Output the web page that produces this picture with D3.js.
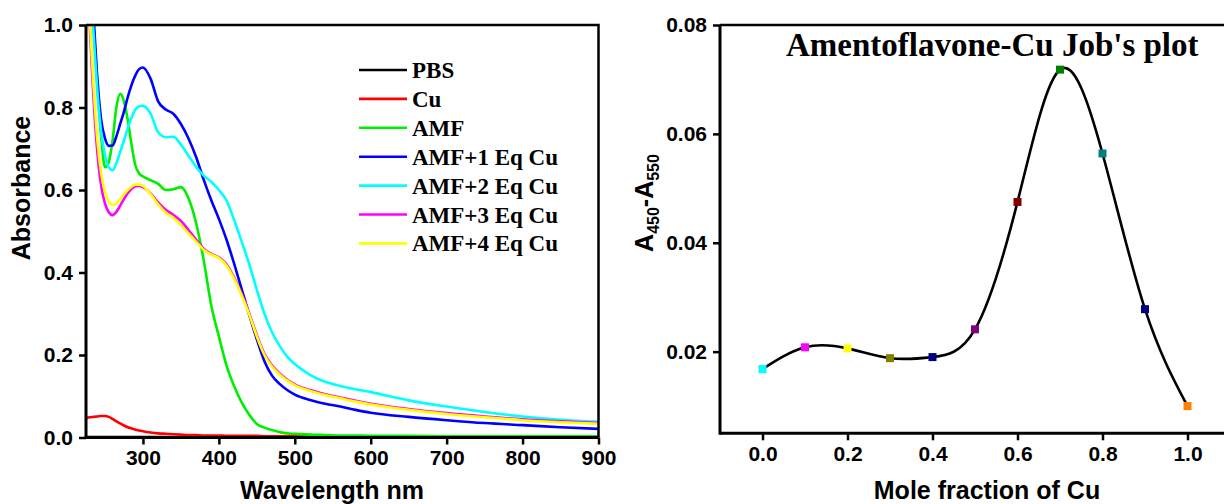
<!DOCTYPE html>
<html>
<head>
<meta charset="utf-8">
<script src="https://d3js.org/d3.v7.min.js"></script>
<style>
    body { margin: 0; background: #fff; }
    .tick text { font-family: "Liberation Sans", Arial, sans-serif; font-weight: bold; font-size: 21px; fill: #000; }
    .axis-title { font-family: "Liberation Sans", Arial, sans-serif; font-weight: bold; font-size: 25px; }
    .legend text, .plot-title { font-family: "Liberation Serif", "Times New Roman", serif; font-weight: bold; }
</style>
</head>
<body>
<div id="chart"></div>
<script>
// Wavelength grid (nm) shared by every UV-vis spectrum
const wavelengths = [225, 230, 235, 240, 245, 250, 255, 260, 265, 270, 275, 280, 285, 290, 295, 300,
    310, 320, 330, 340, 350, 360, 370, 380, 390, 400, 410, 420, 430, 440, 450, 460, 470, 480, 490, 500,
    520, 540, 560, 580, 600, 650, 700, 750, 800, 850, 900];

const absPBS = [0.001, 0.001, 0.001, 0.001, 0.001, 0.001, 0.001, 0.001, 0.001, 0.001, 0.001, 0.001, 0.001, 0.001, 0.001, 0.001,
    0.001, 0.001, 0.001, 0.001, 0.001, 0.001, 0.001, 0.001, 0.001, 0.001, 0.001, 0.001, 0.001, 0.001, 0.001, 0.001, 0.001, 0.001, 0.001, 0.001,
    0.001, 0.001, 0.001, 0.001, 0.001, 0.001, 0.002, 0.002, 0.003, 0.002, 0.002];
const absCu = [0.047, 0.049, 0.050, 0.051, 0.052, 0.052, 0.050, 0.045, 0.039, 0.034, 0.029, 0.025, 0.022, 0.019, 0.017, 0.015,
    0.012, 0.010, 0.009, 0.008, 0.007, 0.006, 0.006, 0.005, 0.005, 0.005, 0.004, 0.004, 0.004, 0.004, 0.004, 0.003, 0.003, 0.003, 0.003, 0.003,
    0.003, 0.003, 0.003, 0.002, 0.002, 0.002, 0.002, 0.002, 0.002, 0.002, 0.002];
const absAMF = [1.35, 1.15, 1.0, 0.85, 0.73, 0.655, 0.668, 0.72, 0.80, 0.833, 0.815, 0.77, 0.71, 0.66, 0.64, 0.633,
    0.624, 0.615, 0.60, 0.602, 0.607, 0.58, 0.52, 0.43, 0.32, 0.245, 0.175, 0.125, 0.085, 0.055, 0.033, 0.024, 0.018, 0.013, 0.010, 0.009,
    0.007, 0.006, 0.005, 0.005, 0.004, 0.004, 0.003, 0.003, 0.003, 0.003, 0.003];
const absEq1 = [1.30, 1.15, 1.02, 0.87, 0.77, 0.725, 0.707, 0.708, 0.73, 0.76, 0.79, 0.825, 0.855, 0.878, 0.893, 0.897,
    0.870, 0.815, 0.795, 0.785, 0.76, 0.725, 0.68, 0.625, 0.575, 0.53, 0.48, 0.422, 0.36, 0.297, 0.238, 0.185, 0.150, 0.130, 0.115, 0.104,
    0.091, 0.082, 0.075, 0.067, 0.060, 0.050, 0.042, 0.035, 0.030, 0.025, 0.021];
const absEq2 = [1.30, 1.12, 0.98, 0.84, 0.74, 0.685, 0.655, 0.648, 0.665, 0.692, 0.72, 0.75, 0.775, 0.795, 0.803, 0.804,
    0.785, 0.74, 0.728, 0.729, 0.71, 0.683, 0.656, 0.635, 0.62, 0.60, 0.575, 0.528, 0.475, 0.42, 0.358, 0.30, 0.255, 0.222, 0.196, 0.178,
    0.152, 0.135, 0.125, 0.117, 0.110, 0.090, 0.075, 0.062, 0.051, 0.043, 0.038];
const absEq3 = [1.25, 1.0, 0.82, 0.69, 0.61, 0.567, 0.546, 0.539, 0.547, 0.562, 0.578, 0.592, 0.603, 0.609, 0.61, 0.607,
    0.592, 0.57, 0.552, 0.54, 0.525, 0.503, 0.48, 0.458, 0.445, 0.437, 0.42, 0.388, 0.348, 0.301, 0.248, 0.203, 0.175, 0.155, 0.14, 0.129,
    0.115, 0.105, 0.097, 0.089, 0.082, 0.069, 0.059, 0.051, 0.044, 0.039, 0.035];
const absEq4 = [1.25, 1.02, 0.85, 0.72, 0.64, 0.595, 0.572, 0.564, 0.568, 0.578, 0.59, 0.60, 0.608, 0.613, 0.613, 0.61,
    0.59, 0.565, 0.545, 0.533, 0.515, 0.495, 0.475, 0.455, 0.443, 0.435, 0.417, 0.385, 0.345, 0.298, 0.245, 0.20, 0.172, 0.153, 0.138, 0.127,
    0.113, 0.103, 0.095, 0.087, 0.080, 0.067, 0.057, 0.049, 0.042, 0.037, 0.033];

const seriesNames = ["PBS", "Cu", "AMF", "AMF+1 Eq Cu", "AMF+2 Eq Cu", "AMF+3 Eq Cu", "AMF+4 Eq Cu"];
const seriesValues = [absPBS, absCu, absAMF, absEq1, absEq2, absEq3, absEq4];
const seriesColors = ["#000000", "#ff0000", "#00ee00", "#0000ff", "#00ffff", "#ff00ff", "#ffff00"];

const uvXTicks = [300, 400, 500, 600, 700, 800, 900];
const uvYTicks = [0.0, 0.2, 0.4, 0.6, 0.8, 1.0];

// Job's plot
const moleFraction = [0.0, 0.1, 0.2, 0.3, 0.4, 0.5, 0.6, 0.7, 0.8, 0.9, 1.0];
const jobSignal = [0.0168, 0.0208, 0.0206, 0.0188, 0.0190, 0.0241, 0.0475, 0.0718, 0.0564, 0.0278, 0.0100];
const jobColors = ["#00ffff", "#ff00ff", "#ffff00", "#808000", "#000080", "#800080", "#800000", "#008000", "#008080", "#000080", "#ff8000"];
const jobXTicks = [0.0, 0.2, 0.4, 0.6, 0.8, 1.0];
const jobYTicks = [0.02, 0.04, 0.06, 0.08];

const svg = d3.select("#chart").append("svg")
    .attr("width", 1224)
    .attr("height", 504);

// ---------- left panel: UV-vis spectra ----------
const x1 = d3.scaleLinear().domain([225, 900]).range([86, 598.5]);
const y1 = d3.scaleLinear().domain([0, 1.0]).range([437.5, 25]);

svg.append("clipPath").attr("id", "clipUV")
    .append("rect").attr("x", 86).attr("y", 25).attr("width", 512.5).attr("height", 412.5);

const uvLine = d3.line()
    .x((d, i) => x1(wavelengths[i]))
    .y(d => y1(d))
    .curve(d3.curveMonotoneX);

svg.append("g").attr("clip-path", "url(#clipUV)")
    .selectAll("path")
    .data(seriesValues)
    .enter().append("path")
    .attr("d", uvLine)
    .attr("fill", "none")
    .attr("stroke", (d, i) => seriesColors[i])
    .attr("stroke-width", 2.6);

// frame (top + right)
svg.append("path")
    .attr("d", `M${x1(225)},${y1(1)}H${x1(900)}V${y1(0)}`)
    .attr("fill", "none").attr("stroke", "#000").attr("stroke-width", 2.5);

const uvXAxis = svg.append("g")
    .attr("transform", `translate(0,${y1(0)})`)
    .call(d3.axisBottom(x1).tickValues(uvXTicks).tickFormat(d3.format("d")).tickSize(7).tickPadding(6));
const uvYAxis = svg.append("g")
    .attr("transform", `translate(${x1(225)},0)`)
    .call(d3.axisLeft(y1).tickValues(uvYTicks).tickFormat(d3.format(".1f")).tickSize(7).tickPadding(6));

[uvXAxis, uvYAxis].forEach(ax => {
    ax.selectAll(".tick line").attr("stroke-width", 2.5);
});
uvXAxis.select(".domain").attr("stroke-width", 3).attr("d", `M${x1(225)},0H${x1(900)}`);
uvYAxis.select(".domain").attr("stroke-width", 3).attr("d", `M0,${y1(0) + 1.5}V${y1(1)}`);

svg.append("text").attr("class", "axis-title")
    .attr("x", 332).attr("y", 499).attr("text-anchor", "middle")
    .text("Wavelength nm");
svg.append("text").attr("class", "axis-title")
    .attr("transform", "translate(30,188) rotate(-90)")
    .attr("text-anchor", "middle")
    .text("Absorbance");

// legend
const legend = svg.append("g").attr("class", "legend");
const legendRows = legend.selectAll("g")
    .data(seriesNames)
    .enter().append("g")
    .attr("transform", (d, i) => `translate(359,${70 + i * 28.9})`);
legendRows.append("line")
    .attr("x1", 0).attr("x2", 48).attr("y1", 0).attr("y2", 0)
    .attr("stroke", (d, i) => seriesColors[i]).attr("stroke-width", 2.6);
legendRows.append("text")
    .attr("x", 53).attr("y", 8)
    .attr("font-size", 23)
    .text(d => d);

// ---------- right panel: Job's plot ----------
const x2 = d3.scaleLinear().domain([-0.1, 1.1]).range([720, 1230]);
const y2 = d3.scaleLinear().domain([0.005, 0.08]).range([433.3, 25]);

svg.append("path")
    .attr("d", `M${x2(-0.1)},${y2(0.08)}H${x2(1.1)}`)
    .attr("fill", "none").attr("stroke", "#000").attr("stroke-width", 2.5);

const jobLine = d3.line()
    .x((d, i) => x2(moleFraction[i]))
    .y(d => y2(d))
    .curve(d3.curveNatural);

svg.append("path")
    .datum(jobSignal)
    .attr("d", jobLine)
    .attr("fill", "none")
    .attr("stroke", "#000")
    .attr("stroke-width", 2.6);

svg.selectAll(".marker")
    .data(jobSignal)
    .enter().append("rect")
    .attr("class", "marker")
    .attr("x", (d, i) => x2(moleFraction[i]) - 4)
    .attr("y", d => y2(d) - 4)
    .attr("width", 8).attr("height", 8)
    .attr("fill", (d, i) => jobColors[i]);

const jobXAxis = svg.append("g")
    .attr("transform", `translate(0,${y2(0.005)})`)
    .call(d3.axisBottom(x2).tickValues(jobXTicks).tickFormat(d3.format(".1f")).tickSize(7).tickPadding(6));
const jobYAxis = svg.append("g")
    .attr("transform", `translate(${x2(-0.1)},0)`)
    .call(d3.axisLeft(y2).tickValues(jobYTicks).tickFormat(d3.format(".2f")).tickSize(7).tickPadding(6));

[jobXAxis, jobYAxis].forEach(ax => {
    ax.selectAll(".tick line").attr("stroke-width", 2.5);
});
jobXAxis.select(".domain").attr("stroke-width", 3).attr("d", `M${x2(-0.1)},0H${x2(1.1)}`);
jobYAxis.select(".domain").attr("stroke-width", 3).attr("d", `M0,${y2(0.005) + 1.5}V${y2(0.08)}`);

svg.append("text").attr("class", "axis-title")
    .attr("x", 987).attr("y", 499).attr("text-anchor", "middle")
    .text("Mole fraction of Cu");

const yLabel2 = svg.append("text").attr("class", "axis-title")
    .attr("transform", "translate(653,203) rotate(-90)")
    .attr("text-anchor", "middle");
yLabel2.append("tspan").text("A");
yLabel2.append("tspan").attr("font-size", 16).attr("dy", 6).text("450");
yLabel2.append("tspan").attr("dy", -6).text("-A");
yLabel2.append("tspan").attr("font-size", 16).attr("dy", 6).text("550");

svg.append("text").attr("class", "plot-title")
    .attr("x", 786).attr("y", 56)
    .attr("font-size", 33)
    .text("Amentoflavone-Cu Job's plot");
</script>
</body>
</html>
